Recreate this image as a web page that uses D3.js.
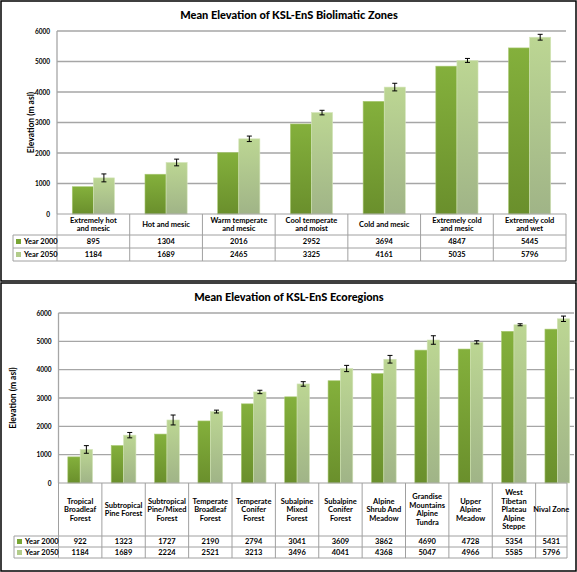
<!DOCTYPE html>
<html><head><meta charset="utf-8">
<script src="https://cdn.jsdelivr.net/npm/d3@7"></script>
<style>
html,body{margin:0;padding:0;background:#fff;}
svg text{font-family:Lato,"Open Sans",sans-serif;font-weight:bold;fill:#000;}
</style></head>
<body><svg id="c" width="577" height="572"></svg>
<script>
// ---------- data ----------
const seriesNames = ["Year 2000", "Year 2050"];
const yTicks = [0, 1000, 2000, 3000, 4000, 5000, 6000];

const bioTitle = "Mean Elevation of KSL-EnS Biolimatic Zones";
const bioCategories = ["Extremely hot\nand mesic", "Hot and mesic", "Warm temperate\nand mesic", "Cool temperate\nand moist", "Cold and mesic", "Extremely cold\nand mesic", "Extremely cold\nand wet"];
const bio2000 = [895, 1304, 2016, 2952, 3694, 4847, 5445];
const bio2050 = [1184, 1689, 2465, 3325, 4161, 5035, 5796];
const bio2050Err = [130, 110, 90, 75, 125, 65, 95];

const ecoTitle = "Mean Elevation of KSL-EnS Ecoregions";
const ecoCategories = ["Tropical\nBroadleaf\nForest", "Subtropical\nPine Forest", "Subtropical\nPine/Mixed\nForest", "Temperate\nBroadleaf\nForest", "Temperate\nConifer\nForest", "Subalpine\nMixed\nForest", "Subalpine\nConifer\nForest", "Alpine\nShrub And\nMeadow", "Grandise\nMountains\nAlpine\nTundra", "Upper\nAlpine\nMeadow", "West\nTibetan\nPlateau\nAlpine\nSteppe", "Nival Zone"];
const eco2000 = [922, 1323, 1727, 2190, 2794, 3041, 3609, 3862, 4690, 4728, 5354, 5431];
const eco2050 = [1184, 1689, 2224, 2521, 3213, 3496, 4041, 4368, 5047, 4966, 5585, 5796];
const eco2050Err = [135, 95, 175, 50, 60, 80, 110, 135, 150, 55, 35, 95];

// ---------- drawing ----------
const svg = d3.select("#c");
const defs = svg.append("defs");
function grad(id, c1, c2){
  const g = defs.append("linearGradient").attr("id", id).attr("x1",0).attr("y1",0).attr("x2",0).attr("y2",1);
  g.append("stop").attr("offset","0%").attr("stop-color",c1);
  g.append("stop").attr("offset","100%").attr("stop-color",c2);
}
grad("gDark", "#84b03c", "#6a8f2c");
grad("gLight", "#bcd693", "#a0b487");
const fills = ["url(#gDark)", "url(#gLight)"];
const keyFills = ["#78a535", "#b2cc8a"];

// panel borders
svg.append("rect").attr("x",1).attr("y",1).attr("width",575).attr("height",280)
  .attr("fill","none").attr("stroke","#000").attr("stroke-width",1.5);
svg.append("rect").attr("x",1).attr("y",283).attr("width",575).attr("height",288)
  .attr("fill","none").attr("stroke","#000").attr("stroke-width",1.5);

function drawChart(o){
  const clipId = "clip" + o.id;
  defs.append("clipPath").attr("id", clipId).append("rect")
    .attr("x", 2).attr("y", o.top - 40).attr("width", o.clipRight - 2).attr("height", 400);
  const root = svg.append("g").attr("clip-path", `url(#${clipId})`);

  root.append("text").attr("x", 289).attr("y", o.titleY).attr("text-anchor","middle")
    .style("font-size","11px").style("font-weight","900").text(o.title);

  const y = d3.scaleLinear().domain([0, 6000]).range([o.zero, o.top]);
  const x = d3.scaleBand().domain(o.cats).range([o.left, o.bandRight])
    .paddingInner(o.pad).paddingOuter(o.pad/2);
  const xs = d3.scaleBand().domain([0,1]).range([0, x.bandwidth()]);
  const step = x.step();
  const colL = c => x(c) - (step - x.bandwidth())/2;
  const colMid = c => { const l = colL(c); const r = Math.min(l + step, o.tableRight); return (l + r)/2; };

  // gridlines
  root.append("g").selectAll("line").data(yTicks.filter(t => t > 0)).join("line")
    .attr("x1", o.left).attr("x2", o.gridRight)
    .attr("y1", d => y(d)).attr("y2", d => y(d))
    .attr("stroke", "#a6a6a6").attr("stroke-width", 1.3);
  // y axis line
  root.append("line").attr("x1", o.left).attr("x2", o.left).attr("y1", o.top).attr("y2", o.zero)
    .attr("stroke", "#a6a6a6").attr("stroke-width", 1.3);
  // tick labels
  const ax = d3.axisLeft(y).tickValues(yTicks).tickFormat(d3.format("d")).tickSize(0).tickPadding(7);
  const ag = root.append("g").attr("transform", `translate(${o.left},0)`).call(ax);
  ag.select(".domain").remove();
  ag.selectAll("text").style("font-size","6.5px").style("font-family","Lato,sans-serif").style("font-weight","bold");

  // y title
  root.append("text").attr("transform", `translate(${o.yTitleX},${(o.top+o.zero)/2}) rotate(-90)`)
    .attr("text-anchor","middle").attr("dy","0.35em").style("font-size","8.5px").text("Elevation (m asl)");

  // bars
  const series = [o.v2000, o.v2050];
  series.forEach((vals, si) => {
    root.append("g").selectAll("rect").data(vals).join("rect")
      .attr("x", (d,i) => x(o.cats[i]) + xs(si))
      .attr("width", xs.bandwidth())
      .attr("y", d => y(d))
      .attr("height", d => o.zero - y(d))
      .attr("fill", fills[si])
      .attr("stroke", si === 0 ? "#a9c873" : "#d3e4b8").attr("stroke-width", 0.6);
  });
  // error bars on 2050
  const eg = root.append("g").attr("stroke", "#000").attr("stroke-width", 1);
  o.v2050.forEach((v, i) => {
    const cx = x(o.cats[i]) + xs(1) + xs.bandwidth()/2;
    const e = o.err[i];
    eg.append("line").attr("x1", cx).attr("x2", cx).attr("y1", y(v+e)).attr("y2", y(v-e));
    eg.append("line").attr("x1", cx-2.5).attr("x2", cx+2.5).attr("y1", y(v+e)).attr("y2", y(v+e));
    eg.append("line").attr("x1", cx-2.5).attr("x2", cx+2.5).attr("y1", y(v-e)).attr("y2", y(v-e));
  });

  // table
  const tg = root.append("g");
  const lineC = "#a0a0a0";
  const r0 = o.zero, r1 = o.headBottom, r2 = o.row1Bottom, r3 = o.row2Bottom;
  const right = o.tableRight;
  [[o.left, r0], [o.legLeft, r1], [o.legLeft, r2], [o.legLeft, r3]].forEach(([xl, yy]) => {
    tg.append("line").attr("x1", xl).attr("x2", right).attr("y1", yy).attr("y2", yy)
      .attr("stroke", lineC).attr("stroke-width", 1);
  });
  const vx = o.cats.map(c => colL(c)).concat([right]);
  vx.forEach(xx => tg.append("line").attr("x1", xx).attr("x2", xx).attr("y1", r0).attr("y2", r3)
    .attr("stroke", lineC).attr("stroke-width", 1));
  tg.append("line").attr("x1", o.legLeft).attr("x2", o.legLeft).attr("y1", r1).attr("y2", r3)
    .attr("stroke", lineC).attr("stroke-width", 1);

  // header text
  o.cats.forEach(c => {
    const lines = c.split("\n");
    const cx = colMid(c);
    const cy = (r0 + r1)/2;
    const t = tg.append("text").attr("text-anchor","middle").style("font-size", o.headFont + "px");
    lines.forEach((ln, k) => {
      t.append("tspan").attr("x", cx)
        .attr("y", cy + (k - (lines.length-1)/2) * o.lineH).attr("dy","0.35em").text(ln);
    });
  });
  // legend + values
  const rows = [[r1, r2], [r2, r3]];
  series.forEach((vals, si) => {
    const cy = (rows[si][0] + rows[si][1])/2;
    tg.append("rect").attr("x", o.legLeft + 3).attr("y", cy - 2.5).attr("width", 5).attr("height", 5)
      .attr("fill", keyFills[si]);
    tg.append("text").attr("x", o.legLeft + 11).attr("y", cy).attr("dy","0.35em")
      .style("font-size", o.cellFont + "px").text(seriesNames[si]);
    vals.forEach((v, i) => {
      tg.append("text").attr("x", colMid(o.cats[i])).attr("y", cy).attr("dy","0.35em")
        .attr("text-anchor","middle").style("font-size", o.cellFont + "px").text(v);
    });
  });
}

drawChart({
  id: "a", title: bioTitle, cats: bioCategories, v2000: bio2000, v2050: bio2050, err: bio2050Err,
  titleY: 19, top: 31, zero: 214, left: 57, bandRight: 566, gridRight: 566, tableRight: 566, clipRight: 574,
  pad: 0.42, yTitleX: 31, legLeft: 13, headBottom: 235, row1Bottom: 248, row2Bottom: 261,
  headFont: 7.5, cellFont: 7.5, lineH: 7.5
});
drawChart({
  id: "b", title: ecoTitle, cats: ecoCategories, v2000: eco2000, v2050: eco2050, err: eco2050Err,
  titleY: 301, top: 313, zero: 483, left: 58.5, bandRight: 579, gridRight: 577, tableRight: 567, clipRight: 574,
  pad: 0.43, yTitleX: 13.5, legLeft: 14, headBottom: 536, row1Bottom: 547, row2Bottom: 558,
  headFont: 7.5, cellFont: 7.5, lineH: 8.5
});
</script></body></html>
